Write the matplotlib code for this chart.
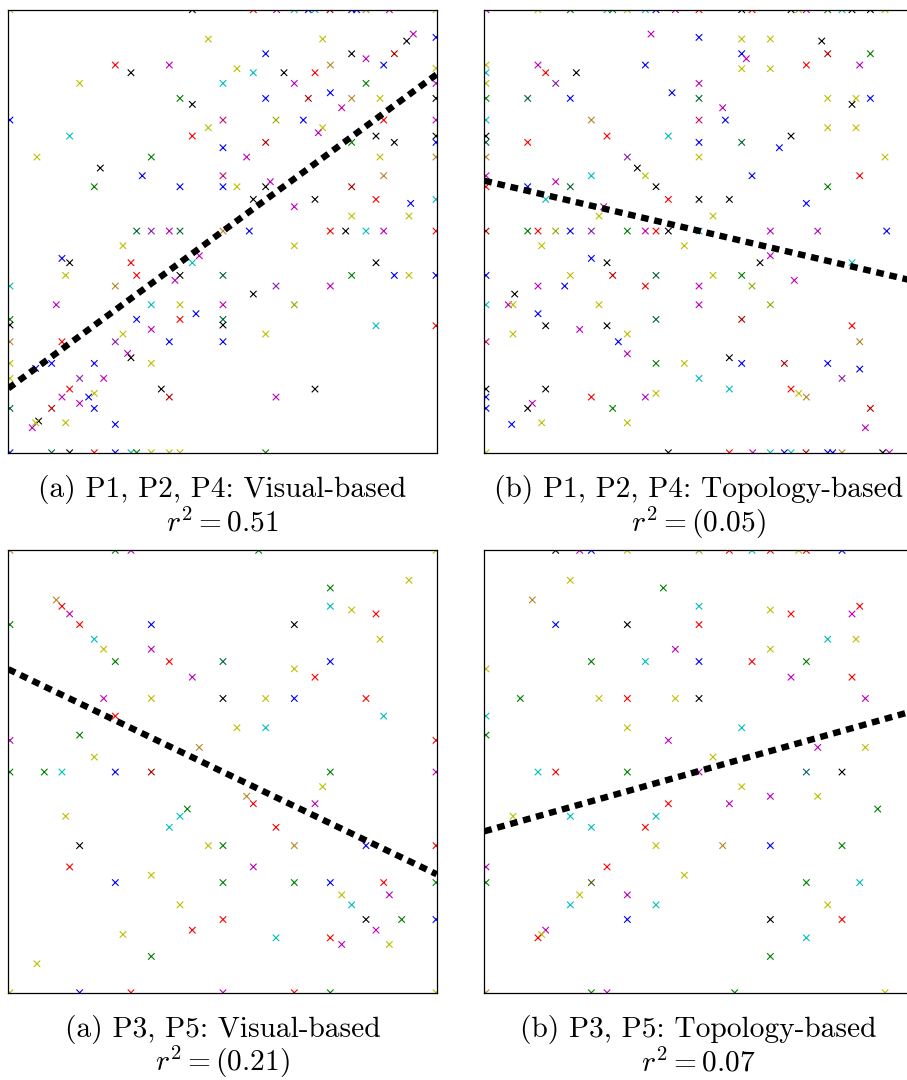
import matplotlib
matplotlib.use("Agg")
import matplotlib.pyplot as plt

plt.rcParams['font.family'] = 'serif'
plt.rcParams['font.serif'] = ['cmr10']
plt.rcParams['mathtext.fontset'] = 'cm'
plt.rcParams['axes.unicode_minus'] = False

# colour codes: classic bgrcmyk plus a few overlap shades seen in the picture
palette = {'b': (0, 0, 1), 'g': (0, 0.5, 0), 'r': (1, 0, 0), 'c': (0, 0.75, 0.75),
           'm': (0.75, 0, 0.75), 'y': (0.75, 0.75, 0), 'k': (0, 0, 0),
           'n': '#b8862b', 'd': '#b00000', 'G': '#006633', 'p': '#8a1fb0',
           'l': '#8db000', 'e': '#c8106e', 't': '#106070', 'o': '#4a5a10'}

# ---- P1, P2, P4 visual-based ----
tl_x = [0.5, 55.2, 73.5, 80.5, 85.8, 90.0, 92.0, 96.5, 103.0, 104.5, 107.3, 114.3, 128.3,
        60.0, 94.3, 121.5, 119.5, 128.3,
        77.2, 103.0, 107.3, 115.8,
        32.1, 36.8, 48.3, 68.6, 73.5, 82.7, 92.0, 96.6, 112.6, 128.3,
        21.4, 64.4, 85.8, 107.3, 128.3,
        51.5, 55.2, 77.2, 90.0, 96.6, 103.0, 111.5, 128.3, 100.0,
        0.5, 64.4, 80.3, 88.5, 94.3, 93.0, 112.6, 128.3,
        18.4, 55.2, 60.0, 77.2, 64.4, 103.0, 110.3, 115.8, 128.3, 128.3,
        8.6, 42.9, 71.5, 111.5, 128.3,
        27.6, 40.2, 64.4, 112.6,
        25.8, 51.5, 64.4, 68.6, 77.2, 78.6, 103.0,
        73.5, 92.0, 110.3, 120.7, 128.3,
        85.8, 103.0, 120.2,
        38.5, 42.9, 48.3, 51.5, 64.4, 72.3, 96.6, 101.2, 107.3, 112.6, 128.3,
        34.4, 85.8,
        16.1, 18.4, 36.8, 57.3, 55.2, 110.3,
        17.2, 38.5, 51.5, 50.0, 64.4, 103.0, 115.8, 120.2, 128.3,
        0.5, 32.1, 80.3, 96.6, 73.5,
        14.4, 42.9, 51.5, 64.4, 85.8, 56.3,
        0.5, 0.5, 38.5, 51.5, 64.4, 64.4, 110.3, 128.3,
        42.9, 34.4, 77.2,
        0.5, 16.1, 32.1, 48.3, 64.4,
        35.8, 36.8,
        0.5, 8.2, 13.0, 25.8, 42.9,
        0.5, 21.4, 28.6,
        18.4, 25.8, 24.1, 16.1, 45.9, 48.3, 80.3, 92.0,
        21.4, 0.5, 13.0, 25.8,
        9.1, 8.2, 7.2, 17.2, 32.1,
        0.5, 13.0, 18.4, 25.8, 32.1, 36.8, 38.5, 42.9, 48.3, 51.5, 77.2]
tl_y = [132.9] * 13 + [
        124.1, 124.1, 125.6, 123.5, 124.6,
        119.7, 119.7, 118.2, 119.7,
        116.3, 114.0, 116.3, 115.2, 114.0, 114.0, 114.0, 116.3, 116.3, 115.3,
        110.8, 110.8, 110.8, 110.8, 110.8,
        106.3, 104.5, 106.3, 106.3, 108.0, 106.3, 106.3, 106.3, 103.5,
        99.8, 99.8, 99.8, 99.8, 97.5, 96.0, 99.8, 99.8,
        95.0, 95.0, 97.5, 93.1, 91.5, 93.1, 95.0, 93.1, 95.0, 93.1,
        88.7, 88.7, 88.7, 88.7, 88.7,
        85.4, 83.1, 83.1, 83.1,
        79.8, 79.8, 79.8, 79.8, 79.8, 81.3, 79.8,
        76.0, 76.0, 76.0, 74.8, 76.0,
        73.8, 71.0, 71.0] + [66.5] * 11 + [
        62.1, 62.1,
        58.3, 57.0, 57.0, 59.1, 57.0, 57.0,
        53.2, 53.2, 53.2, 51.7, 53.2, 53.2, 53.2, 53.2, 53.2,
        50.0, 50.0, 50.0, 50.0, 47.6,
        44.4, 44.4, 44.4, 44.4, 44.4, 41.7,
        40.0, 38.3, 40.0, 40.0, 40.0, 38.3, 38.1, 38.1,
        37.0, 35.6, 35.6,
        33.3, 33.3, 33.3, 33.3, 33.3,
        29.8, 28.5,
        26.8, 25.3, 26.8, 26.8, 26.8,
        22.3, 22.3, 22.3,
        19.1, 17.8, 16.7, 16.7, 19.1, 16.7, 16.7, 19.1,
        14.8, 13.3, 13.3, 13.3,
        9.5, 9.0, 7.5, 9.0, 8.5] + [0.0] * 11
tl_c = ("ykrmcbcdbbnmy" "yymkb" "bkmd" "rkmyckrnby" "ycmgm" "gkbdbnykm" "belbymrm"
        "crydbgkkkb" "ygmyn" "kben" "gbbykmd" "kkrbc" "myy" "GpmGnbrkcmr" "yy" "bkrmck"
        "yrkmGgbyb" "cnpmk" "mcymlb" "gkbrGkcr" "myy" "nrpbb" "mk" "ybbby" "ypm"
        "rybmkdmk" "mGdb" "kymyb" "bGkrbcgyyyg")

# ---- P1, P2, P4 topology-based ----
tr_x = [0.5, 16.1, 25.8, 36.8, 38.5, 42.9, 48.3, 51.5, 57.3, 64.4, 77.2, 80.3, 92.0, 94.3,
        96.6, 103.0, 107.3, 110.3, 115.8, 120.2,
        50.0, 64.4, 77.2, 85.8, 101.2,
        77.2, 78.6, 103.0, 115.8,
        0.5, 0.5, 16.1, 18.4, 27.6, 48.3, 77.2, 85.8, 96.6, 112.6,
        0.5, 21.4, 64.4, 56.3,
        0.5, 13.0, 25.8, 64.4, 103.0, 111.5, 110.3, 115.8,
        71.5, 0.5, 32.1, 64.4, 72.3, 103.0, 111.5,
        0.5, 0.5, 13.0, 36.8, 55.2, 64.4, 77.2, 92.0, 88.5,
        0.5, 42.9, 64.4, 120.2,
        45.9, 48.3, 0.5, 32.1, 80.3, 112.6,
        0.5, 13.0, 21.4, 25.8, 51.5, 103.0,
        18.4, 55.2, 64.4, 73.5, 96.6,
        35.8, 34.4, 68.6,
        0.5, 13.0, 16.1, 21.4, 25.8, 32.1, 42.9, 48.3, 51.5, 55.2, 64.4, 85.8, 100.0, 120.7,
        17.2, 60.0,
        85.8, 32.1, 36.8, 82.7, 110.3,
        0.5, 25.8, 38.5, 51.5, 68.6, 77.2,
        16.1, 24.1, 48.3, 64.4, 80.3, 93.0,
        9.1, 0.5, 7.2, 8.6, 34.4, 64.4, 85.8,
        16.1, 18.4, 28.6, 36.8, 51.5, 77.2, 110.3,
        8.6, 42.9, 0.5, 40.2, 112.6,
        42.9, 73.5,
        51.5, 60.0, 77.2, 90.0, 103.0, 112.6,
        64.4, 107.3,
        0.5, 0.5, 0.5, 18.4, 73.5, 92.0, 94.3, 96.6, 32.1, 48.3,
        51.5, 14.4, 13.0, 38.5, 115.8,
        8.2, 17.2, 42.9, 114.3,
        0.5, 55.2, 73.5, 80.5, 85.8, 90.0, 92.0, 96.5, 103.0, 104.5, 107.3, 119.5, 121.5]
tr_y = [132.9] * 20 + [
        125.6, 124.6, 124.1, 124.1, 123.5,
        119.7, 118.2, 119.7, 119.7,
        116.3, 114.0, 116.3, 114.0, 114.0, 116.3, 115.2, 115.2, 116.3, 116.3,
        110.8, 110.8, 110.8, 108.0,
        106.3, 106.3, 106.3, 106.3, 106.3, 106.3, 104.5, 106.3,
        103.5, 99.8, 99.8, 99.8, 99.8, 97.5, 97.5,
        95.0, 93.1, 93.1, 95.0, 95.0, 93.1, 93.1, 95.0, 91.5,
        88.7, 88.7, 88.7, 88.7,
        85.4, 83.1, 83.1, 83.1, 83.1, 83.1,
        79.8, 79.8, 81.3, 79.8, 79.8, 79.8,
        76.0, 76.0, 76.0, 76.0, 74.8,
        73.8, 71.0, 71.0] + [66.5] * 14 + [
        62.1, 62.1,
        59.1, 58.3, 57.0, 57.0, 57.0,
        53.2, 53.2, 53.2, 53.2, 53.2, 53.2,
        50.0, 50.0, 50.0, 50.0, 50.0, 51.7,
        47.6, 44.4, 44.4, 44.4, 44.4, 44.4, 44.4,
        41.7, 38.1, 37.0, 38.1, 40.0, 40.0, 38.1,
        35.6, 35.6, 33.3, 33.3, 33.3,
        29.7, 28.5,
        26.8, 26.8, 26.8, 26.8, 26.8, 25.1,
        22.3, 22.3,
        19.1, 16.7, 13.3, 19.1, 19.1, 19.1, 17.8, 16.7, 16.7, 16.7,
        17.8, 14.8, 13.3, 13.3, 13.3,
        8.5, 9.0, 9.0, 7.5] + [0.0] * 13
tr_c = ("mygcgycbmrkrkymgckky" "mbyyk" "bmdg" "ycmrkbyyrm" "ypmb" "gGbGyykb" "mcnebyy"
        "kGrrcbGkb" "npyy" "kymcbr" "rbmGkg" "crkkb" "myy" "dgrlbpgmrkcmmb" "yy" "mbkkc"
        "bydGyg" "mbrmlm" "kcmyyml" "bkmkGdr" "yyebn" "mk" "gybdbb" "cp" "kbbkcrynrm"
        "ymkgd" "byym" "ykrmcbcdbbnkm")

# ---- P3, P5 visual-based ----
bl_x = [0.5, 32.1, 36.8, 75.1, 128.3,
        120.2, 96.6, 14.4, 16.1, 18.4, 21.4,
        0.5, 42.9, 85.8, 96.6, 103.0, 110.3, 25.8,
        28.6, 42.9, 111.5, 32.1,
        48.3, 64.4, 85.8, 96.6, 55.2, 92.0,
        28.6, 42.9, 64.4, 77.2, 85.8, 107.3,
        32.1, 112.6, 68.6, 77.2,
        0.5, 21.4, 128.3, 57.3, 25.8,
        0.5, 10.8, 16.1, 32.1, 42.9, 96.6, 128.3,
        94.3, 71.5, 73.5, 92.0, 53.7, 51.5,
        48.3, 17.2, 80.3,
        21.4, 60.0, 64.4, 85.8, 107.3, 128.3,
        18.4, 73.5,
        32.1, 42.9, 64.4, 85.8, 96.6, 112.6, 128.3,
        100.0, 114.3, 103.0, 51.5,
        64.4, 107.3, 118.0, 128.3,
        55.2, 110.3, 34.4, 80.3,
        96.6, 100.0, 114.3,
        42.9, 8.6,
        0.5, 21.4, 36.8, 64.4, 85.8, 96.6, 128.3]
bl_y = [132.9] * 5 + [
        123.9, 121.6, 118.0, 116.1, 113.8, 110.6,
        110.6, 110.6, 110.6, 116.1, 115.0, 113.8, 106.2,
        103.2, 103.2, 106.2, 99.5,
        99.5, 99.5, 97.3, 99.5, 94.8, 94.8,
        88.4, 88.4, 88.4, 88.4, 88.4, 88.4,
        83.1, 83.1, 79.6, 79.6,
        75.8, 77.4, 75.8, 73.7, 70.8] + [66.3] * 7 + [
        61.9, 59.0, 56.8, 56.8, 55.2, 53.0,
        49.7, 53.0, 49.7,
        44.2, 44.2, 44.2, 44.2, 44.2, 44.2,
        37.8, 37.8,
        33.1, 35.3, 33.1, 33.1, 33.1, 33.1, 33.1,
        29.4, 29.4, 26.4, 26.4,
        22.0, 22.0, 22.0, 22.0,
        18.8, 18.8, 17.5, 16.5,
        16.5, 14.5, 14.5,
        10.9, 8.7] + [0.0] * 7
bl_c = ("ngmgy" "ygnrmr" "gbkcyrc" "ymyg" "rGybmr" "mykybr" "rcyc" "mgrny" "ggcbdgm"
        "ynrmgc" "cyr" "kygnbr" "rm" "byggbrg" "ymcy" "rkgb" "rmyc" "rmy" "gy" "ybrmrgy")

# ---- P3, P5 topology-based ----
br_x = [21.4, 28.6, 32.1, 42.9, 64.4, 73.5, 80.3, 85.8, 94.3, 96.6, 107.3,
        25.8, 53.7, 14.4, 64.4, 85.8, 92.0,
        110.3, 112.6, 21.4, 42.9, 64.4,
        103.0, 111.5, 57.3, 85.8,
        32.1, 48.3, 64.4, 80.3, 96.6,
        0.5, 92.0, 110.3,
        10.8, 34.4, 42.9, 57.3, 64.4, 114.3,
        0.5, 0.5, 42.9, 77.2,
        55.2, 100.0, 114.3, 68.6,
        16.1, 21.4, 42.9, 64.4, 96.6, 107.3,
        77.2, 85.8, 100.0, 55.2,
        73.5, 118.0, 8.6, 25.8, 51.5,
        32.1, 48.3,
        51.5, 71.5, 85.8, 107.3,
        0.5, 36.8, 60.0,
        0.5, 32.1, 96.6, 112.6,
        28.6, 42.9, 25.8, 51.5, 103.0,
        42.9, 85.8, 107.3,
        18.4, 17.2, 16.1, 96.6, 85.8,
        0.5, 32.1, 36.8, 75.1, 120.2]
br_y = [132.9] * 11 + [
        123.9, 121.6, 118.0, 116.1, 115.0, 113.8,
        113.8, 116.1, 110.6, 110.6, 110.6,
        106.2, 106.2, 103.2, 103.2,
        99.5, 99.5, 99.5, 99.5, 99.5,
        97.3, 94.8, 94.8,
        88.4, 88.4, 88.4, 88.4, 88.4, 88.4,
        83.1, 77.4, 79.6, 79.6,
        75.8, 73.7, 73.7, 70.8] + [66.3] * 6 + [
        61.9, 59.0, 59.0, 56.8,
        56.8, 55.2, 53.0, 53.0, 53.0,
        49.7, 49.7,
        44.2, 44.2, 44.2, 44.2,
        37.8, 37.8, 35.3,
        33.1, 33.1, 33.1, 33.1,
        29.4, 29.4, 26.4, 26.4, 26.4,
        22.0, 22.0, 22.0,
        18.8, 17.5, 16.5, 16.5, 10.9] + [0.0] * 5
br_c = ("kmbylrcryrb" "ygncyr" "mrbkr" "cymy" "gcbrg" "ymr" "gyrykm" "cgyc" "mmyy"
        "crgmtk" "ymyr" "mgycc" "cr" "ynbg" "mry" "gogc" "ymccy" "bkr" "myrcg" "ngmgy")

# fitted regression line: value at left and right edge of each panel
fit_left = [19.3, 81.6, 97.2, 48.5]
fit_right = [113.5, 51.6, 35.6, 84.6]

titles = ["(a) P1, P2, P4: Visual-based", "(b) P1, P2, P4: Topology-based",
          "(a) P3, P5: Visual-based", "(b) P3, P5: Topology-based"]
r2_labels = ["$r^2 = 0.51$", "$r^2 = (0.05)$", "$r^2 = (0.21)$", "$r^2 = 0.07$"]

xmax, ymax = 128.5, 132.9

fig = plt.figure(figsize=(9.07, 10.8), dpi=100)
rects = [[0.00915, 0.5808, 0.4723, 0.4102], [0.534, 0.5808, 0.4723, 0.4102],
         [0.00915, 0.0808, 0.4723, 0.4096], [0.534, 0.0808, 0.4723, 0.4096]]
panels = [(tl_x, tl_y, tl_c), (tr_x, tr_y, tr_c), (bl_x, bl_y, bl_c), (br_x, br_y, br_c)]

for i, (xs, ys, cs) in enumerate(panels):
    ax = fig.add_axes(rects[i])
    cols = [palette[ch] for ch, _x, _y in zip(cs, xs, ys, strict=True)]
    ax.scatter(xs, ys, marker='x', s=22, linewidths=0.8, c=cols, zorder=2)
    ax.plot([0, xmax], [fit_left[i], fit_right[i]], color='k', lw=4.6,
            dashes=(1.2, 0.9), dash_capstyle='butt', zorder=3)
    ax.set_xlim(0, xmax)
    ax.set_ylim(0, ymax)
    ax.set_xticks([])
    ax.set_yticks([])
    for sp in ax.spines.values():
        sp.set_linewidth(0.9)
    ax.text(0.5, -0.099, titles[i], transform=ax.transAxes, ha='center',
            va='baseline', fontsize=21.2)
    ax.text(0.5, -0.178, r2_labels[i], transform=ax.transAxes, ha='center',
            va='baseline', fontsize=21.2)

fig.savefig("out.png", dpi=100)
